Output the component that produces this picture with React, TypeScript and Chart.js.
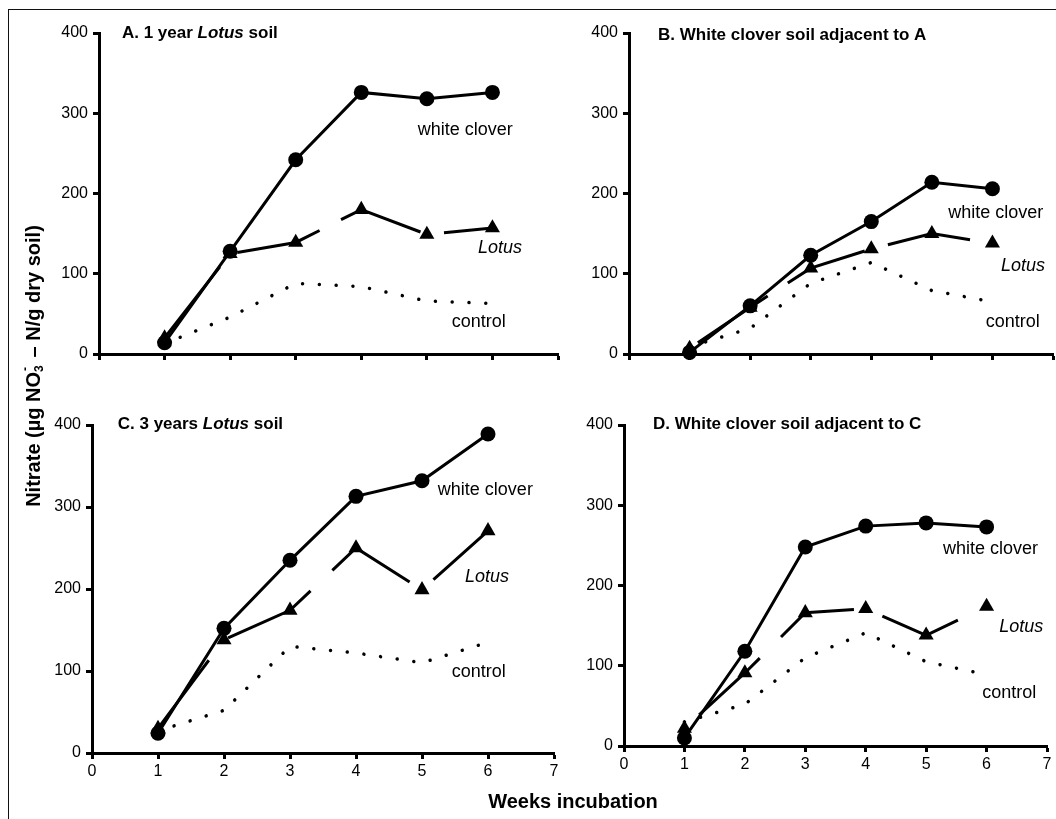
import React, { useEffect, useRef } from 'react';
import { Chart, registerables } from 'chart.js';

Chart.register(...registerables);

const FONT = '"Liberation Sans", Arial, Helvetica, sans-serif';

// ---- data ----
const weeks = [1, 2, 3, 4, 5, 6];
const xMin = 0;
const xMax = 7;
const yMin = 0;
const yMax = 400;

const cloverA = [14, 128, 242, 326, 318, 326];
const lotusA = [20, 125, 139, 180, 149, 157];
const controlA = [13, 46, 88, 84, 66, 63];

const cloverB = [2, 60, 123, 165, 214, 206];
const lotusB = [7, 58, 107, 131, 150, 138];
const controlB = [9, 32, 88, 114, 79, 65];

const cloverC = [24, 152, 235, 313, 332, 389];
const lotusC = [30, 138, 174, 250, 199, 271];
const controlC = [27, 52, 130, 122, 110, 135];

const cloverD = [10, 118, 248, 274, 278, 273];
const lotusD = [22, 91, 166, 171, 138, 174];
const controlD = [30, 52, 110, 141, 105, 89];

const titleA = [{ t: 'A. 1 year ', i: false }, { t: 'Lotus', i: true }, { t: ' soil', i: false }];
const titleB = [{ t: 'B. White clover soil adjacent to A', i: false }];
const titleC = [{ t: 'C. 3 years ', i: false }, { t: 'Lotus', i: true }, { t: ' soil', i: false }];
const titleD = [{ t: 'D. White clover soil adjacent to C', i: false }];

const seriesNames = ['white clover', 'Lotus', 'control'];
const xAxisTitle = 'Weeks incubation';

// ---- layout / style (not data) ----
const PADL = 64;
const PADT = 26;
const PADR = 14;
const PADB = 40;

type Part = { t: string; i: boolean };
type PanelCfg = {
  title: Part[];
  clover: number[];
  lotus: number[];
  control: number[];
  showX: boolean;
  box: { x0: number; x7: number; y0: number; y400: number };
  dash: number[];
  dashOffset: number;
  titlePos: [number, number];
  labelPos: [number, number][];
};

const panels: PanelCfg[] = [
  {
    title: titleA, clover: cloverA, lotus: lotusA, control: controlA, showX: false,
    box: { x0: 99, x7: 558, y0: 354, y400: 33 },
    dash: [86, 24], dashOffset: 106,
    titlePos: [0.35, 400],
    labelPos: [[4.86, 279], [5.78, 132], [5.38, 40]],
  },
  {
    title: titleB, clover: cloverB, lotus: lotusB, control: controlB, showX: false,
    box: { x0: 629, x7: 1053, y0: 354, y400: 33 },
    dash: [84, 24], dashOffset: 98,
    titlePos: [0.48, 397],
    labelPos: [[5.27, 176], [6.14, 110], [5.89, 40]],
  },
  {
    title: titleC, clover: cloverC, lotus: lotusC, control: controlC, showX: true,
    box: { x0: 92, x7: 554, y0: 753, y400: 425 },
    dash: [96, 30], dashOffset: 11,
    titlePos: [0.39, 401],
    labelPos: [[5.24, 321], [5.65, 215], [5.45, 99]],
  },
  {
    title: titleD, clover: cloverD, lotus: lotusD, control: controlD, showX: true,
    box: { x0: 624, x7: 1047, y0: 746, y400: 425 },
    dash: [83, 30], dashOffset: 93,
    titlePos: [0.48, 401],
    labelPos: [[5.28, 245], [6.21, 148], [5.93, 66]],
  },
];

function Panel({ cfg }: { cfg: PanelCfg }) {
  const ref = useRef<HTMLCanvasElement | null>(null);
  const { box } = cfg;
  const width = box.x7 - box.x0 + PADL + PADR;
  const height = box.y0 - box.y400 + PADT + PADB;

  useEffect(() => {
    if (!ref.current) return;
    const annot = {
      id: 'annot',
      afterDatasetsDraw(chart: any) {
        const { ctx } = chart;
        const xs = chart.scales.x;
        const ys = chart.scales.y;
        ctx.save();
        ctx.fillStyle = '#000';
        ctx.textBaseline = 'middle';
        ctx.textAlign = 'left';
        let px = xs.getPixelForValue(cfg.titlePos[0]);
        const py = ys.getPixelForValue(cfg.titlePos[1]);
        for (const p of cfg.title) {
          ctx.font = `${p.i ? 'italic ' : ''}bold 17px ${FONT}`;
          ctx.fillText(p.t, px, py);
          px += ctx.measureText(p.t).width;
        }
        seriesNames.forEach((name, k) => {
          const [lx, ly] = cfg.labelPos[k];
          ctx.font = `${name === 'Lotus' ? 'italic ' : ''}18px ${FONT}`;
          ctx.fillText(name, xs.getPixelForValue(lx), ys.getPixelForValue(ly));
        });
        ctx.restore();
      },
    };

    const mk = (vals: number[]) => weeks.map((w, i) => ({ x: w, y: vals[i] }));

    const chart = new Chart(ref.current, {
      type: 'line',
      data: {
        datasets: [
          {
            label: seriesNames[0],
            data: mk(cfg.clover),
            borderColor: '#000',
            backgroundColor: '#000',
            borderWidth: 3,
            pointStyle: 'circle',
            pointRadius: 7.5,
            pointBorderWidth: 0,
            pointBackgroundColor: '#000',
            tension: 0,
            clip: false,
          },
          {
            label: seriesNames[1],
            data: mk(cfg.lotus),
            borderColor: '#000',
            backgroundColor: '#000',
            borderWidth: 3,
            borderDash: cfg.dash,
            borderDashOffset: cfg.dashOffset,
            pointStyle: 'triangle',
            pointRadius: 8.7,
            pointBorderWidth: 0,
            pointBackgroundColor: '#000',
            tension: 0,
            clip: false,
          },
          {
            label: seriesNames[2],
            data: mk(cfg.control),
            borderColor: '#000',
            borderWidth: 3.5,
            borderDash: [0.01, 16.8],
            borderCapStyle: 'round',
            pointRadius: 0,
            tension: 0,
            clip: false,
          },
        ] as any,
      },
      options: {
        responsive: false,
        animation: false,
        devicePixelRatio: 1,
        layout: { padding: { left: 0, top: PADT, right: PADR, bottom: 0 } },
        plugins: {
          legend: { display: false },
          tooltip: { enabled: false },
          title: { display: false },
        },
        scales: {
          x: {
            type: 'linear',
            min: xMin,
            max: xMax,
            ticks: {
              stepSize: 1,
              autoSkip: false,
              color: '#000',
              font: { family: FONT, size: 16 },
              padding: 3,
              callback: (v: any) => (cfg.showX ? String(v) : ''),
            },
            grid: {
              display: true,
              drawOnChartArea: false,
              drawTicks: true,
              tickLength: 6,
              tickWidth: 3,
              tickColor: '#000',
            },
            border: { display: true, width: 3, color: '#000' },
            afterFit: (s: any) => {
              s.height = PADB;
            },
          },
          y: {
            type: 'linear',
            min: yMin,
            max: yMax,
            ticks: {
              stepSize: 100,
              color: '#000',
              font: { family: FONT, size: 16 },
              padding: 5,
            },
            grid: {
              display: true,
              drawOnChartArea: false,
              drawTicks: true,
              tickLength: 6,
              tickWidth: 3,
              tickColor: '#000',
            },
            border: { display: true, width: 3, color: '#000' },
            afterFit: (s: any) => {
              s.width = PADL;
            },
          },
        },
      } as any,
      plugins: [annot],
    });
    return () => chart.destroy();
  }, [cfg]);

  return (
    <canvas
      ref={ref}
      width={width}
      height={height}
      style={{
        position: 'absolute',
        left: box.x0 - PADL,
        top: box.y400 - PADT,
        width,
        height,
      }}
    />
  );
}

export default function App() {
  return (
    <div
      style={{
        position: 'fixed',
        left: 0,
        top: 0,
        width: 1056,
        height: 819,
        overflow: 'hidden',
        background: '#fff',
        fontFamily: FONT,
      }}
    >
      <div
        style={{
          position: 'absolute',
          left: 8,
          top: 9,
          width: 1200,
          height: 900,
          borderLeft: '1px solid #111',
          borderTop: '1px solid #111',
        }}
      />
      {panels.map((p, i) => (
        <Panel key={i} cfg={p} />
      ))}
      <div
        style={{
          position: 'absolute',
          left: 33 - 200,
          top: 366 - 13,
          width: 400,
          height: 26,
          lineHeight: '26px',
          textAlign: 'center',
          fontWeight: 'bold',
          fontSize: 20,
          color: '#000',
          transform: 'rotate(-90deg)',
          transformOrigin: '50% 50%',
          whiteSpace: 'nowrap',
        }}
      >
        Nitrate (µg NO
        <span style={{ position: 'relative', display: 'inline-block', width: '0.45em' }}>
          <span style={{ position: 'absolute', left: 0, top: 13, fontSize: 12, lineHeight: '12px' }}>3</span>
          <span style={{ position: 'absolute', left: 1, top: -1, fontSize: 12, lineHeight: '12px' }}>-</span>
          &nbsp;
        </span>
        {' – N/g dry soil)'}
      </div>
      <div
        style={{
          position: 'absolute',
          left: 573 - 200,
          top: 788,
          width: 400,
          textAlign: 'center',
          fontWeight: 'bold',
          fontSize: 20,
          lineHeight: '26px',
          color: '#000',
        }}
      >
        {xAxisTitle}
      </div>
    </div>
  );
}
